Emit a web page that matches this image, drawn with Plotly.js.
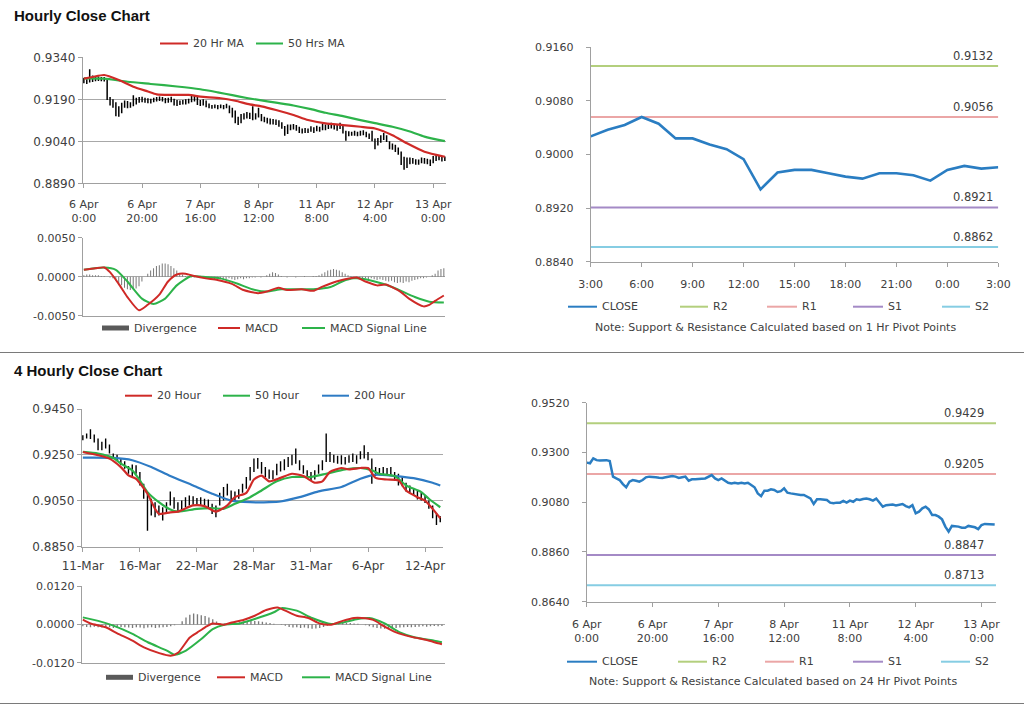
<!DOCTYPE html>
<html><head><meta charset="utf-8">
<script src="https://cdn.plot.ly/plotly-3.0.1.min.js"></script>
<style>html,body{margin:0;padding:0;background:#fff;}#chart{width:1024px;height:706px;}</style>
</head><body><div id="chart"></div>
<script>
// ---------- Hourly data (6 Apr 0:00 -> 13 Apr ~4:00) ----------
const hourlyTickIdx = [0,20,40,60,80,100,120];
const hourlyTickLabels = ["6 Apr<br>0:00","6 Apr<br>20:00","7 Apr<br>16:00","8 Apr<br>12:00","11 Apr<br>8:00","12 Apr<br>4:00","13 Apr<br>0:00"];
const closeH = [
0.9255,0.9252,0.9274,0.9266,0.9264,0.9266,0.9266,0.9262,0.9193,0.9185,
0.9178,0.9160,0.9146,0.9171,0.9178,0.9175,0.9171,0.9178,0.9190,0.9193,
0.9193,0.9190,0.9188,0.9187,0.9190,0.9193,0.9196,0.9193,0.9187,0.9190,
0.9193,0.9175,0.9181,0.9181,0.9181,0.9184,0.9185,0.9193,0.9200,0.9185,
0.9178,0.9185,0.9175,0.9166,0.9163,0.9166,0.9163,0.9166,0.9163,0.9166,
0.9156,0.9146,0.9119,0.9107,0.9131,0.9131,0.9137,0.9134,0.9125,0.9129,
0.9141,0.9122,0.9119,0.9116,0.9116,0.9112,0.9112,0.9104,0.9097,0.9072,
0.9093,0.9093,0.9093,0.9090,0.9078,0.9075,0.9078,0.9078,0.9086,0.9078,
0.9087,0.9082,0.9093,0.9090,0.9094,0.9096,0.9093,0.9087,0.9096,0.9078,
0.9060,0.9067,0.9067,0.9070,0.9066,0.9070,0.9072,0.9063,0.9057,0.9067,
0.9031,0.9038,0.9053,0.9060,0.9048,0.9023,0.9023,0.9016,0.9004,0.8972,
0.8950,0.8975,0.8975,0.8972,0.8967,0.8967,0.8975,0.8972,0.8969,0.8961,
0.8979,0.8984,0.8984,0.8981,0.8981];
const highH = [
0.9266,0.9262,0.9298,0.9275,0.9270,0.9272,0.9270,0.9270,0.9262,0.9198,
0.9190,0.9180,0.9165,0.9178,0.9186,0.9184,0.9180,0.9205,0.9196,0.9198,
0.9199,0.9196,0.9194,0.9192,0.9196,0.9198,0.9200,0.9198,0.9195,0.9196,
0.9199,0.9192,0.9188,0.9186,0.9188,0.9190,0.9192,0.9205,0.9206,0.9200,
0.9188,0.9190,0.9186,0.9175,0.9170,0.9172,0.9170,0.9172,0.9170,0.9174,
0.9168,0.9160,0.9150,0.9128,0.9138,0.9140,0.9145,0.9142,0.9165,0.9140,
0.9160,0.9138,0.9128,0.9124,0.9122,0.9120,0.9118,0.9115,0.9108,0.9095,
0.9100,0.9100,0.9102,0.9098,0.9092,0.9086,0.9088,0.9086,0.9094,0.9090,
0.9096,0.9092,0.9102,0.9100,0.9104,0.9106,0.9102,0.9098,0.9106,0.9096,
0.9078,0.9076,0.9074,0.9078,0.9074,0.9078,0.9080,0.9074,0.9068,0.9078,
0.9050,0.9052,0.9062,0.9070,0.9062,0.9040,0.9032,0.9028,0.9018,0.9004,
0.8985,0.8982,0.8982,0.8980,0.8976,0.8975,0.8982,0.8980,0.8978,0.8975,
0.8988,0.8992,0.8990,0.8988,0.8986];
const lowH = [
0.9248,0.9245,0.9250,0.9252,0.9255,0.9256,0.9255,0.9254,0.9188,0.9168,
0.9160,0.9130,0.9128,0.9140,0.9160,0.9158,0.9160,0.9165,0.9172,0.9178,
0.9180,0.9178,0.9176,0.9175,0.9180,0.9182,0.9184,0.9182,0.9176,0.9178,
0.9180,0.9168,0.9166,0.9170,0.9172,0.9172,0.9175,0.9180,0.9182,0.9170,
0.9166,0.9168,0.9162,0.9158,0.9156,0.9158,0.9155,0.9158,0.9155,0.9158,
0.9140,0.9125,0.9105,0.9098,0.9105,0.9118,0.9122,0.9120,0.9115,0.9118,
0.9125,0.9112,0.9108,0.9104,0.9100,0.9100,0.9098,0.9092,0.9085,0.9060,
0.9066,0.9080,0.9082,0.9078,0.9070,0.9068,0.9070,0.9070,0.9074,0.9070,
0.9076,0.9074,0.9080,0.9080,0.9084,0.9086,0.9082,0.9078,0.9084,0.9068,
0.9042,0.9058,0.9060,0.9060,0.9058,0.9060,0.9062,0.9055,0.9048,0.9040,
0.9012,0.9025,0.9035,0.9045,0.9038,0.9012,0.9010,0.9002,0.8992,0.8955,
0.8938,0.8945,0.8958,0.8960,0.8956,0.8956,0.8962,0.8960,0.8958,0.8952,
0.8962,0.8970,0.8972,0.8968,0.8970];
const ma20H_idx = [0,3,7,12,17,22,25,30,36,40,47,52,57,61,66,72,77,83,89,95,100,106,111,117,124];
const ma20H = [0.9264,0.9270,0.9277,0.9259,0.9235,0.9218,0.9208,0.9206,0.9206,0.9200,0.9194,0.9185,0.9172,0.9165,0.9152,0.9134,0.9116,0.9104,0.9098,0.9092,0.9086,0.9062,0.9033,0.9003,0.8985];
const ma50H_idx = [0,7,15,23,32,40,46,51,56,60,66,72,78,83,89,95,100,106,112,117,124];
const ma50H = [0.9265,0.9264,0.9253,0.9245,0.9236,0.9226,0.9215,0.9205,0.9195,0.9188,0.9178,0.9168,0.9155,0.9142,0.9130,0.9116,0.9105,0.9092,0.9075,0.9057,0.9041];
const macdH_idx = [0,4,7,9,12,15,19,22,26,29,32,35,38,42,46,51,55,60,63,67,70,75,79,82,87,90,94,97,101,104,109,112,117,119,121,124];
const macdH = [0.0009,0.0011,0.0012,0.0006,-0.0009,-0.0026,-0.0043,-0.0036,-0.0023,-0.0006,0.0003,0.0004,0.0001,-0.0002,-0.0004,-0.0009,-0.0017,-0.0021,-0.0019,-0.0014,-0.0017,-0.0016,-0.0018,-0.0013,-0.0006,-0.0003,-0.0001,-0.0006,-0.0011,-0.0010,-0.0019,-0.0028,-0.0038,-0.0036,-0.0031,-0.0024];
const signalH_idx = [0,7,11,15,20,24,28,32,37,41,47,53,58,63,68,73,79,85,89,93,97,103,108,114,119,124];
const signalH = [0.0009,0.0012,0.0009,-0.0006,-0.0028,-0.0035,-0.0028,-0.0011,0.0001,0.0000,-0.0002,-0.0009,-0.0016,-0.0019,-0.0016,-0.0016,-0.0016,-0.0013,-0.0006,-0.0002,-0.0003,-0.0009,-0.0016,-0.0026,-0.0032,-0.0033];
const divergenceH = [
0.0002,0.0003,0.0003,0.0002,0.0002,0.0002,0.0001,0.0001,0.0000,-0.0001,
-0.0002,-0.0005,-0.0008,-0.0011,-0.0014,-0.0016,-0.0017,-0.0016,-0.0015,-0.0012,-0.0006,
0.0000,0.0004,0.0008,0.0011,0.0014,0.0015,0.0017,0.0017,0.0016,0.0014,0.0011,0.0008,0.0005,0.0003,0.0001,
0.0000,-0.0001,-0.0001,0.0000,-0.0001,-0.0001,0.0000,-0.0001,
-0.0002,-0.0003,-0.0002,-0.0003,-0.0004,-0.0003,-0.0002,-0.0003,-0.0004,-0.0003,-0.0002,-0.0003,-0.0002,-0.0002,-0.0001,
-0.0001,0.0000,-0.0001,0.0000,
0.0002,0.0004,0.0006,0.0005,0.0003,
0.0001,0.0000,-0.0001,0.0000,0.0000,-0.0001,0.0000,0.0000,0.0001,0.0000,0.0000,0.0001,0.0001,
0.0002,0.0004,0.0006,0.0008,0.0009,0.0010,0.0009,0.0008,0.0006,0.0004,0.0002,0.0001,
-0.0001,-0.0002,-0.0003,-0.0003,-0.0002,-0.0003,-0.0002,-0.0003,-0.0004,-0.0003,-0.0004,-0.0005,-0.0006,-0.0005,-0.0007,-0.0008,-0.0007,-0.0008,-0.0006,-0.0007,-0.0005,-0.0004,-0.0003,-0.0002,-0.0002,
-0.0001,0.0000,
0.0002,0.0004,0.0008,0.0010,0.0011];

// ---------- 1 Hr pivot panel (3:00 -> 3:00) ----------
const pivotHours = ["3:00","4:00","5:00","6:00","7:00","8:00","9:00","10:00","11:00","12:00","13:00","14:00","15:00","16:00","17:00","18:00","19:00","20:00","21:00","22:00","23:00","0:00","1:00","2:00","3:00"];
const close1h = [0.9027,0.9037,0.9044,0.9056,0.9046,0.9024,0.9024,0.9015,0.9008,0.8993,0.8948,0.8973,0.8977,0.8977,0.8972,0.8967,0.8964,0.8972,0.8972,0.8969,0.8961,0.8977,0.8983,0.8979,0.8981];
const levels1h = {R2:0.9132, R1:0.9056, S1:0.8921, S2:0.8862};
const levels24h = {R2:0.9429, R1:0.9205, S1:0.8847, S2:0.8713};

// ---------- 4 Hourly data (11 Mar -> 13 Apr) ----------
const fourHTickIdx = [0,15,30,45,60,75,90];
const fourHTickLabels = ["11-Mar","16-Mar","22-Mar","28-Mar","31-Mar","6-Apr","12-Apr"];
const high4 = [
0.9336,0.9343,0.9362,0.9339,0.9322,0.9307,0.9322,0.9295,0.9256,0.9251,
0.9234,0.9222,0.9202,0.9208,0.9205,0.9176,0.9124,0.9081,0.9059,0.9044,
0.9030,0.9022,0.9044,0.9091,0.9066,0.9044,0.9051,0.9066,0.9073,0.9070,
0.9062,0.9066,0.9059,0.9056,0.9037,0.9030,0.9085,0.9110,0.9124,0.9095,
0.9091,0.9100,0.9124,0.9154,0.9197,0.9234,0.9237,0.9219,0.9197,0.9187,
0.9183,0.9212,0.9222,0.9231,0.9241,0.9251,0.9278,0.9227,0.9205,0.9183,
0.9176,0.9183,0.9208,0.9227,0.9343,0.9263,0.9251,0.9246,0.9249,0.9241,
0.9249,0.9256,0.9249,0.9266,0.9292,0.9263,0.9234,0.9197,0.9193,0.9197,
0.9193,0.9197,0.9176,0.9168,0.9154,0.9129,0.9117,0.9105,0.9095,0.9085,
0.9073,0.9051,0.9030,0.8997,0.8983];
const low4 = [
0.9314,0.9322,0.9319,0.9304,0.9270,0.9270,0.9278,0.9256,0.9234,0.9227,
0.9205,0.9190,0.9168,0.9158,0.9168,0.9117,0.9059,0.8920,0.8986,0.8978,
0.8986,0.8964,0.8993,0.9030,0.9015,0.9003,0.9008,0.9022,0.9030,0.9033,
0.9027,0.9030,0.9022,0.9018,0.8993,0.8978,0.9030,0.9051,0.9073,0.9051,
0.9047,0.9059,0.9085,0.9103,0.9139,0.9176,0.9190,0.9168,0.9154,0.9146,
0.9143,0.9161,0.9178,0.9183,0.9197,0.9205,0.9212,0.9183,0.9168,0.9154,
0.9139,0.9143,0.9168,0.9183,0.9219,0.9219,0.9216,0.9212,0.9208,0.9208,
0.9216,0.9219,0.9212,0.9231,0.9234,0.9227,0.9124,0.9158,0.9161,0.9164,
0.9158,0.9161,0.9139,0.9117,0.9114,0.9091,0.9085,0.9073,0.9056,0.9051,
0.9041,0.9015,0.8974,0.8945,0.8957];
const ma20_4_idx = [0,4,7,10,12,14,17,19,20,23,25,29,32,35,38,40,43,45,47,49,52,55,58,61,63,65,68,70,73,75,77,80,83,85,88,90,92,94];
const ma20_4 = [0.9263,0.9249,0.9234,0.9197,0.9161,0.9146,0.9081,0.9015,0.8993,0.9000,0.9003,0.9030,0.9027,0.9003,0.9030,0.9066,0.9085,0.9143,0.9160,0.9135,0.9150,0.9168,0.9158,0.9129,0.9135,0.9176,0.9193,0.9187,0.9193,0.9193,0.9150,0.9143,0.9139,0.9095,0.9066,0.9051,0.9015,0.8974];
const ma50_4_idx = [0,4,8,10,13,15,17,20,23,25,30,34,37,40,44,47,51,55,60,64,69,73,76,78,82,85,89,91,94];
const ma50_4 = [0.9263,0.9256,0.9237,0.9212,0.9183,0.9139,0.9088,0.9044,0.9012,0.9003,0.9015,0.9018,0.9015,0.9037,0.9066,0.9095,0.9135,0.9154,0.9154,0.9168,0.9187,0.9193,0.9183,0.9168,0.9158,0.9117,0.9088,0.9059,0.9022];
const ma200_4_idx = [0,8,13,18,23,29,34,39,44,49,52,57,62,68,73,77,82,87,92,94];
const ma200_4 = [0.9238,0.9237,0.9227,0.9197,0.9158,0.9117,0.9081,0.9051,0.9044,0.9044,0.9047,0.9066,0.9091,0.9110,0.9146,0.9164,0.9158,0.9149,0.9129,0.9117];
const macd4_idx = [0,2,6,9,13,16,20,23,25,28,30,32,34,37,39,42,45,48,51,53,56,59,62,65,68,71,73,76,79,82,86,90,93,94];
const macd4 = [0.0015,0.0003,-0.0009,-0.0028,-0.0051,-0.0072,-0.0090,-0.0098,-0.0088,-0.0041,-0.0025,-0.0009,0.0003,-0.0001,0.0006,0.0014,0.0027,0.0045,0.0053,0.0043,0.0027,0.0020,0.0003,-0.0001,0.0011,0.0020,0.0020,0.0014,-0.0007,-0.0025,-0.0039,-0.0049,-0.0059,-0.0062];
const signal4_idx = [0,4,8,13,17,22,24,27,31,34,37,41,45,50,52,56,60,65,68,72,75,79,83,87,92,94];
const signal4 = [0.0022,0.0011,-0.0004,-0.0030,-0.0056,-0.0082,-0.0095,-0.0082,-0.0046,-0.0015,-0.0001,0.0003,0.0017,0.0038,0.0051,0.0043,0.0020,0.0001,0.0006,0.0017,0.0020,0.0003,-0.0025,-0.0041,-0.0051,-0.0056];
const divergence4 = [
-0.0006,-0.0008,-0.0009,-0.0007,-0.0009,-0.0010,-0.0008,-0.0009,-0.0011,-0.0010,-0.0008,-0.0009,-0.0010,-0.0011,-0.0009,-0.0010,-0.0012,-0.0010,-0.0009,-0.0011,-0.0010,-0.0009,-0.0008,-0.0006,-0.0003,
0.0000,
0.0010,0.0022,0.0030,0.0034,0.0032,0.0029,0.0026,0.0022,0.0016,0.0009,
0.0003,0.0003,0.0004,0.0005,0.0006,0.0007,0.0009,0.0010,0.0011,0.0011,0.0010,0.0008,0.0006,0.0004,0.0002,
0.0000,-0.0002,-0.0004,
-0.0008,-0.0010,-0.0009,-0.0011,-0.0010,-0.0012,-0.0014,-0.0013,-0.0011,-0.0008,-0.0004,
0.0002,0.0004,0.0005,0.0006,0.0005,0.0004,0.0003,0.0002,0.0000,
-0.0003,-0.0006,-0.0009,-0.0011,-0.0013,-0.0014,-0.0013,-0.0012,-0.0011,-0.0010,-0.0009,-0.0008,-0.0009,-0.0008,-0.0007,-0.0006,-0.0007,-0.0006,-0.0005,-0.0006,-0.0005];

// ---------- styling ----------
const W = 1024, H = 706;
const F = "DejaVu Sans, Arial, sans-serif";
const RED = "#cf2a27", GREEN = "#2db34a", BLUE = "#2e7bc4", CLOSEC = "#2a7dc2", DIVC = "#7a7a7a";
const LVLC = {R2:"#b3cf7d", R1:"#eba6a6", S1:"#a48ac6", S2:"#86cde3"};
const AXC = "#a0a0a0", TXT = "#404040";
const dx = (a,b) => [a/W, b/W];
const dy = (t,b) => [1-b/H, 1-t/H];
const px = x => x/W, py = y => 1-y/H;
const idx = arr => arr.map((_,i)=>i);
const fmt = v => (v<0?'-':'') + Math.abs(v).toFixed(4);

function hiLo(hi, lo, xa, ya, w){
  const x=[], y=[];
  for(let i=0;i<hi.length;i++){ x.push(i,i,null); y.push(lo[i],hi[i],null); }
  return {type:'scatter',mode:'lines',x,y,xaxis:xa,yaxis:ya,line:{color:'#000',width:w},hoverinfo:'skip',showlegend:false};
}
function ln(x,y,color,width,xa,ya,spline){
  return {type:'scatter',mode:'lines',x,y,xaxis:xa,yaxis:ya,line:{color,width,shape:spline?'spline':'linear',smoothing:0.6},hoverinfo:'skip',showlegend:false};
}
function bars(y,xa,ya){
  return {type:'bar',x:idx(y),y,xaxis:xa,yaxis:ya,width:0.35,marker:{color:DIVC,line:{width:0}},hoverinfo:'skip',showlegend:false};
}

const traces = [];
// panel 1
traces.push(hiLo(highH, lowH, 'x','y',1.5));
traces.push(ln(ma50H_idx, ma50H, GREEN, 2.2, 'x','y',true));
traces.push(ln(ma20H_idx, ma20H, RED, 2.2, 'x','y',true));
// panel 2
traces.push(bars(divergenceH,'x2','y2'));
traces.push(ln(signalH_idx, signalH, GREEN, 2, 'x2','y2',true));
traces.push(ln(macdH_idx, macdH, RED, 2, 'x2','y2',true));
// panel 3
for(const k of ['R2','R1','S1','S2']) traces.push(ln([0, pivotHours.length-1],[levels1h[k],levels1h[k]],LVLC[k],2,'x3','y3'));
traces.push(ln(idx(close1h), close1h, CLOSEC, 2.6, 'x3','y3'));
// panel 4
traces.push(hiLo(high4, low4, 'x4','y4',1.4));
traces.push(ln(ma200_4_idx, ma200_4, BLUE, 2.2, 'x4','y4',true));
traces.push(ln(ma50_4_idx, ma50_4, GREEN, 2.2, 'x4','y4',true));
traces.push(ln(ma20_4_idx, ma20_4, RED, 2.2, 'x4','y4',true));
// panel 5
traces.push(bars(divergence4,'x5','y5'));
traces.push(ln(signal4_idx, signal4, GREEN, 2, 'x5','y5',true));
traces.push(ln(macd4_idx, macd4, RED, 2, 'x5','y5',true));
// panel 6
for(const k of ['R2','R1','S1','S2']) traces.push(ln([0, 124.4],[levels24h[k],levels24h[k]],LVLC[k],2,'x6','y6'));
traces.push(ln(idx(closeH), closeH, CLOSEC, 2.5, 'x6','y6'));

const tf = (s) => ({family:F, size:s, color:TXT});
const base = {showline:true, linecolor:AXC, linewidth:1, zeroline:false, showgrid:false,
  ticks:'outside', ticklen:4, tickcolor:AXC, tickfont:tf(11), fixedrange:true};
const grid = {showgrid:true, gridcolor:'#a8a8a8', gridwidth:1};
const yt = vals => ({tickvals:vals, ticktext:vals.map(fmt)});

const layout = {
  width:W, height:H, margin:{l:0,r:0,t:0,b:0}, paper_bgcolor:'#fff', plot_bgcolor:'#fff',
  showlegend:false, barmode:'overlay',
  xaxis:{...base, domain:dx(82.7,446), anchor:'y', range:[-0.4,124.4], tickvals:hourlyTickIdx, ticktext:hourlyTickLabels, ticklabelstandoff:6},
  yaxis:{...base, ...grid, domain:dy(57.3,183.3), anchor:'x', range:[0.8890,0.93403], ...yt([0.8890,0.9040,0.9190,0.9340]), tickfont:tf(12)},
  xaxis2:{...base, domain:dx(82.7,445), anchor:'y2', range:[-0.4,124.4], ticks:'', showticklabels:false},
  yaxis2:{...base, ...grid, domain:dy(237.7,315.7), anchor:'x2', range:[-0.005,0.00503], ...yt([-0.005,0,0.005])},
  xaxis3:{...base, domain:dx(590.7,998.3), anchor:'y3', range:[0,24], tickvals:[0,3,6,9,12,15,18,21,24], ticktext:[0,3,6,9,12,15,18,21,24].map(i=>pivotHours[i]), ticklabelstandoff:8},
  yaxis3:{...base, domain:dy(47.3,261.7), anchor:'x3', range:[0.8840,0.9160], ...yt([0.8840,0.8920,0.9000,0.9080,0.9160]), ticklabelstandoff:10},
  xaxis4:{...base, domain:dx(81.7,443.3), anchor:'y4', range:[-0.3,94.8], tickvals:fourHTickIdx, ticktext:fourHTickLabels, tickfont:tf(12), ticklabelstandoff:4},
  yaxis4:{...base, ...grid, domain:dy(409,546.7), anchor:'x4', range:[0.8850,0.94503], ...yt([0.8850,0.9050,0.9250,0.9450]), tickfont:tf(12)},
  xaxis5:{...base, domain:dx(81.7,445), anchor:'y5', range:[-0.3,94.8], ticks:'', showticklabels:false},
  yaxis5:{...base, ...grid, domain:dy(586,662.7), anchor:'x5', range:[-0.012,0.01203], ...yt([-0.012,0,0.012])},
  xaxis6:{...base, domain:dx(586.7,996), anchor:'y6', range:[0,124.4], tickvals:hourlyTickIdx, ticktext:hourlyTickLabels, ticklabelstandoff:8},
  yaxis6:{...base, domain:dy(402.7,601.7), anchor:'x6', range:[0.8640,0.9520], ...yt([0.8640,0.8860,0.9080,0.9300,0.9520]), ticklabelstandoff:10},
  shapes:[], annotations:[]
};

function txt(x,y,s,opt){ return Object.assign({xref:'paper',yref:'paper',x:px(x),y:py(y),text:s,showarrow:false,xanchor:'left',yanchor:'middle',font:tf(11)},opt||{}); }
function legend(y, items){
  for(const it of items){
    const [x0,x1,color,label,kind] = it;
    if(kind==='bar'){
      layout.shapes.push({type:'rect',xref:'paper',yref:'paper',x0:px(x0),x1:px(x1),y0:py(y+2.5),y1:py(y-2.5),fillcolor:'#5a5a5a',line:{width:0}});
    } else {
      layout.shapes.push({type:'line',xref:'paper',yref:'paper',x0:px(x0),x1:px(x1),y0:py(y),y1:py(y),line:{color,width:2}});
    }
    layout.annotations.push(txt(x1+3,y,label));
  }
}
legend(43.5, [[160,188,RED,'20 Hr MA'],[256,283,GREEN,'50 Hrs MA']]);
legend(328, [[102,129,DIVC,'Divergence','bar'],[218,240,RED,'MACD'],[302,325,GREEN,'MACD Signal Line']]);
legend(306.7, [[568,597,CLOSEC,'CLOSE'],[680,708,LVLC.R2,'R2'],[767,797,LVLC.R1,'R1'],[853,883,LVLC.S1,'S1'],[942,970,LVLC.S2,'S2']]);
legend(395.7, [[125,152,RED,'20 Hour'],[223,250,GREEN,'50 Hour'],[322,349,BLUE,'200 Hour']]);
legend(677.3, [[106,133,DIVC,'Divergence','bar'],[217,245,RED,'MACD'],[302,330,GREEN,'MACD Signal Line']]);
legend(661.7, [[567,597,CLOSEC,'CLOSE'],[678,707,LVLC.R2,'R2'],[765,794,LVLC.R1,'R1'],[853,883,LVLC.S1,'S1'],[941,970,LVLC.S2,'S2']]);

layout.annotations.push(txt(775,327.7,'Note: Support &amp; Resistance Calculated based on 1 Hr Pivot Points',{xanchor:'center'}));
layout.annotations.push(txt(773.3,681.7,'Note: Support &amp; Resistance Calculated based on 24 Hr Pivot Points',{xanchor:'center'}));
layout.annotations.push(txt(12,16,'<b>Hourly Close Chart</b>',{font:{family:'Liberation Sans, Arial, sans-serif',size:15,color:'#111'}}));
layout.annotations.push(txt(12,370,'<b>4 Hourly Close Chart</b>',{font:{family:'Liberation Sans, Arial, sans-serif',size:15,color:'#111'}}));

for(const k of ['R2','R1','S1','S2']){
  layout.annotations.push({xref:'x3',yref:'y3',x:22.5,y:levels1h[k],text:levels1h[k].toFixed(4),showarrow:false,xanchor:'center',yanchor:'bottom',yshift:1,font:tf(11.5)});
  layout.annotations.push({xref:'x6',yref:'y6',x:114.6,y:levels24h[k],text:levels24h[k].toFixed(4),showarrow:false,xanchor:'center',yanchor:'bottom',yshift:1,font:tf(11.5)});
}
layout.shapes.push({type:'line',xref:'paper',yref:'paper',x0:0,x1:1,y0:py(352.5),y1:py(352.5),line:{color:'#7a7a7a',width:1.2}});
layout.shapes.push({type:'line',xref:'paper',yref:'paper',x0:0,x1:1,y0:py(703.5),y1:py(703.5),line:{color:'#7a7a7a',width:1.2}});

Plotly.newPlot('chart', traces, layout, {staticPlot:true, displayModeBar:false});
</script></body></html>
